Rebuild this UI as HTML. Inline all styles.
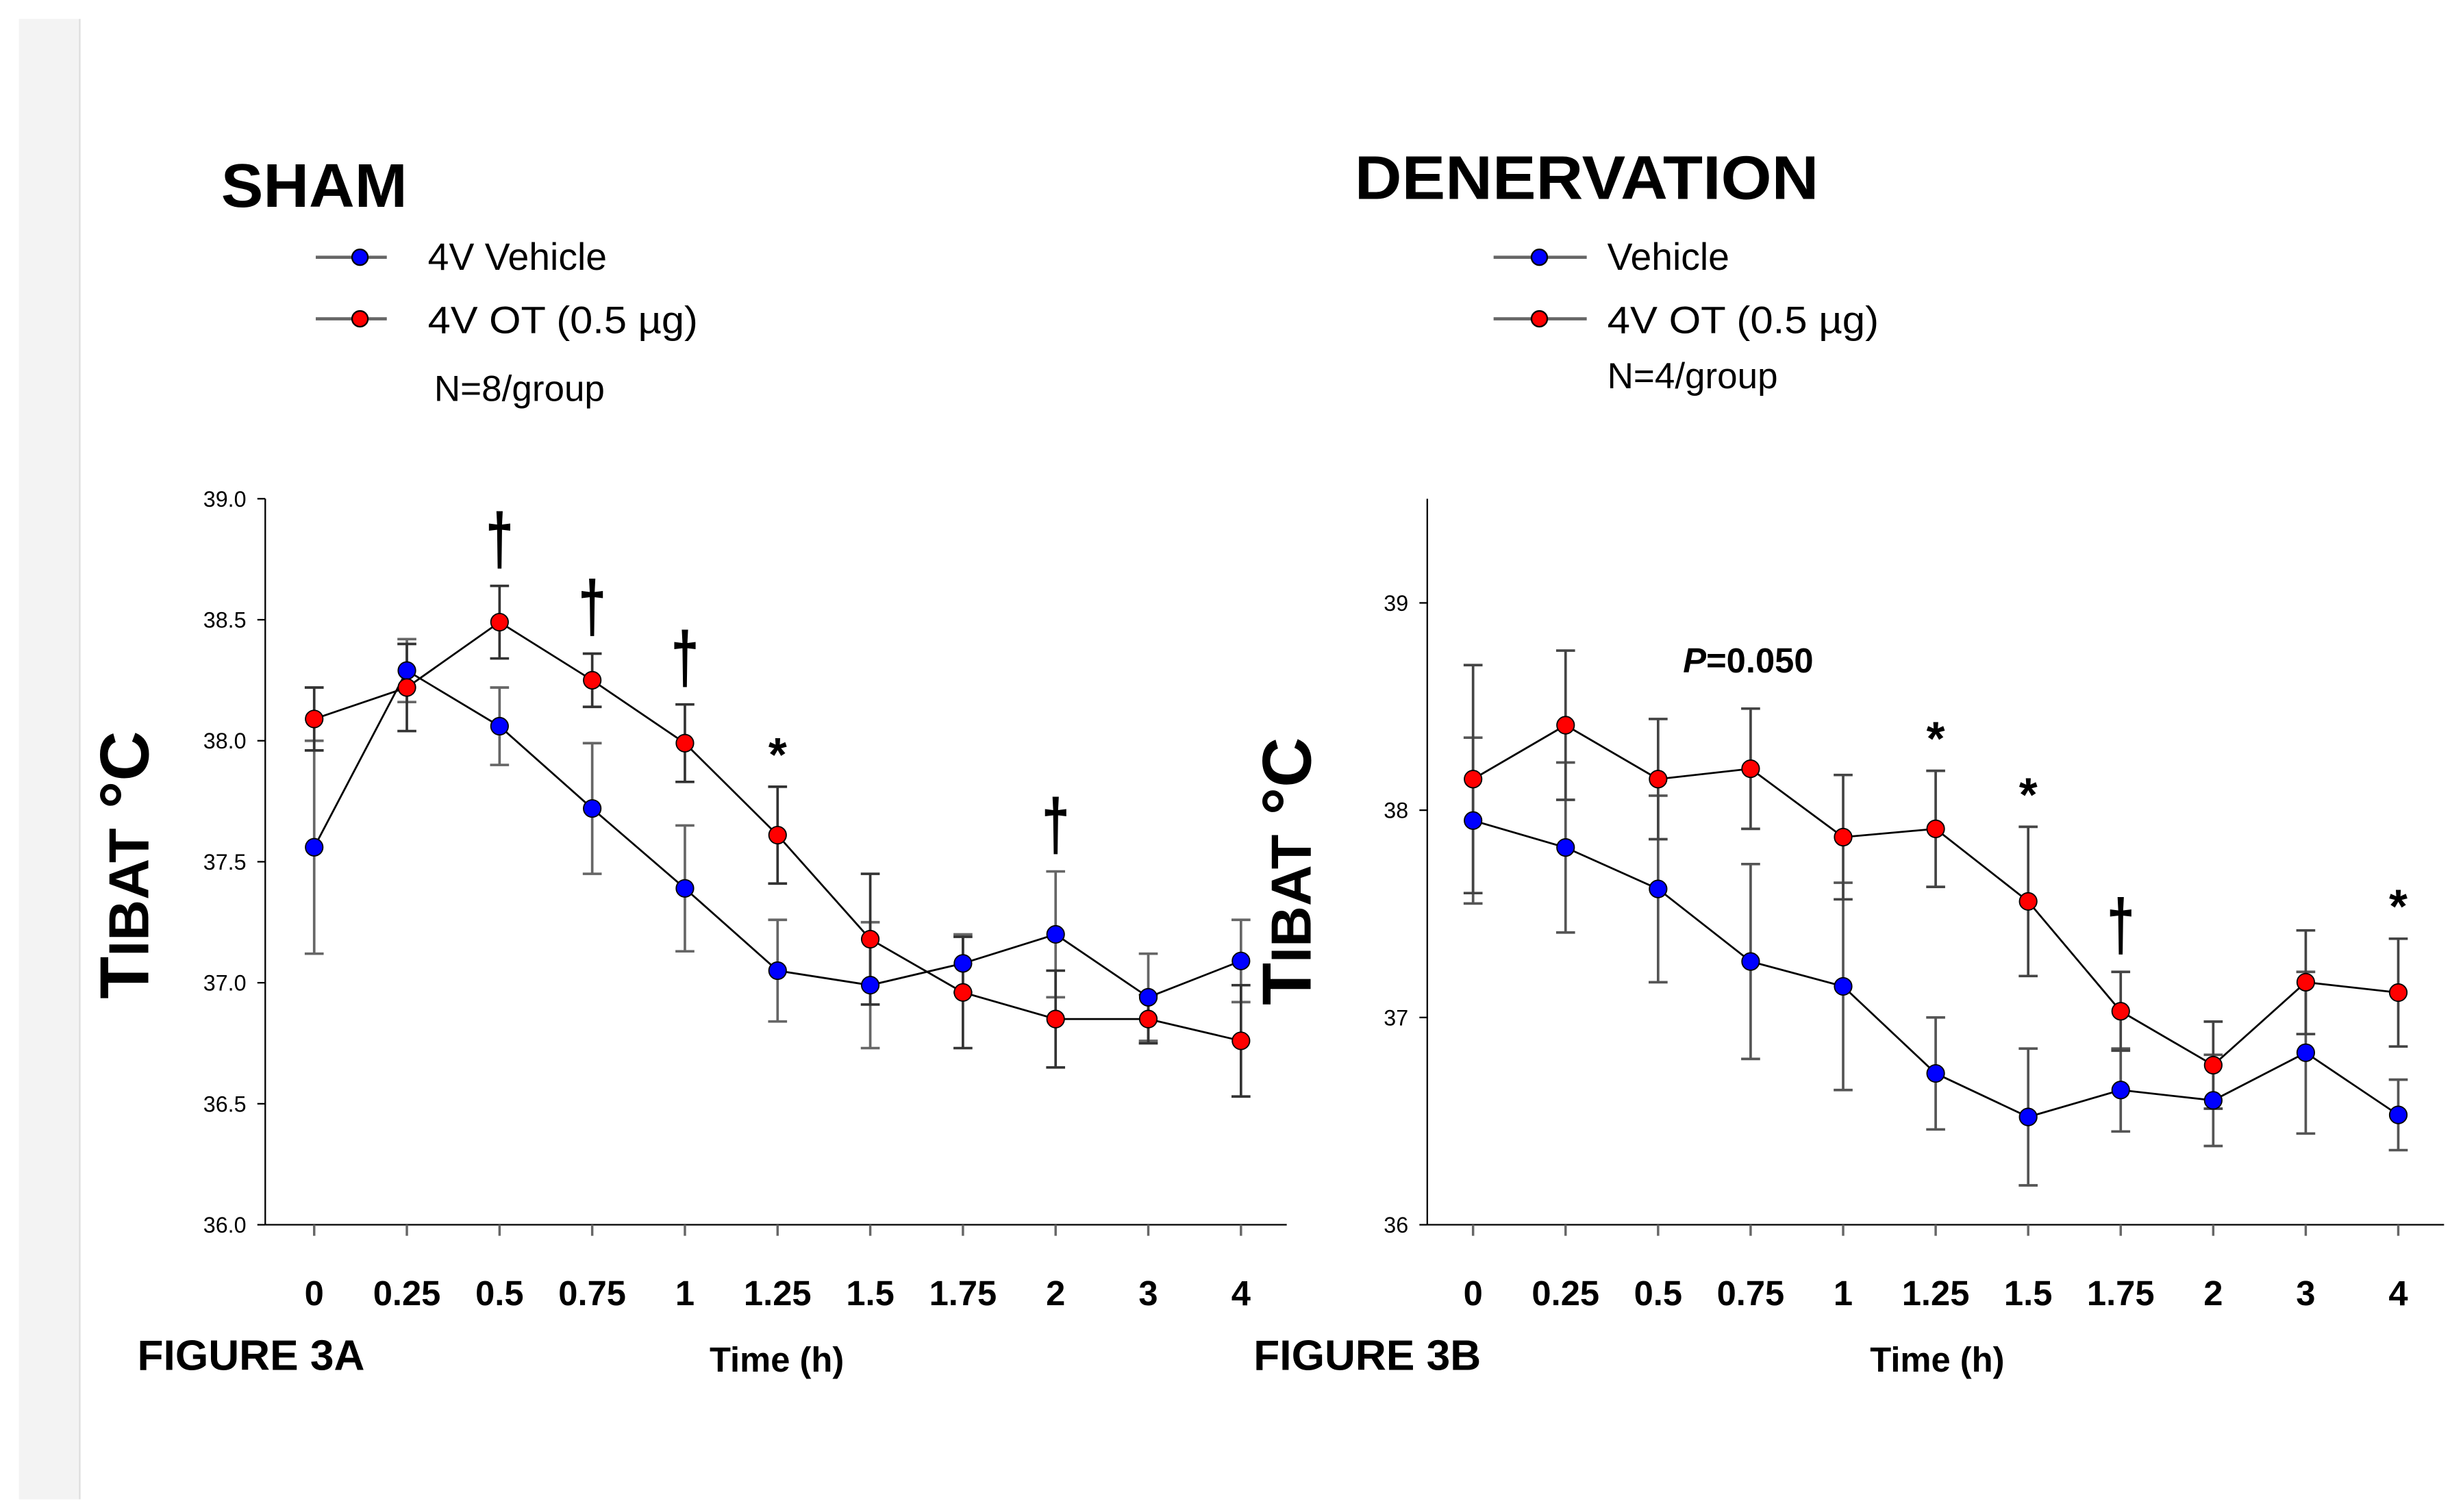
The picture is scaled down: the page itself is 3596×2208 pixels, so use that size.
<!DOCTYPE html>
<html><head><meta charset="utf-8"><style>
html,body{margin:0;padding:0;background:#fff;}
svg{display:block;}
text{font-family:"Liberation Sans",sans-serif;}
</style></head><body>
<svg id="fig" width="3596" height="2208" viewBox="0 0 1560 958" preserveAspectRatio="none" xmlns="http://www.w3.org/2000/svg">
<rect x="12" y="12" width="38" height="938" fill="#f3f3f3"/>
<line x1="50.5" y1="12" x2="50.5" y2="950" stroke="#ddd" stroke-width="1"/>

<text x="140" y="131" font-size="39" font-weight="bold" textLength="118" lengthAdjust="spacingAndGlyphs">SHAM</text>
<text x="858" y="126" font-size="39" font-weight="bold" textLength="294" lengthAdjust="spacingAndGlyphs">DENERVATION</text>

<g>
<line x1="200" y1="163" x2="245" y2="163" stroke="#666" stroke-width="2"/><circle cx="228" cy="163" r="5" fill="#00f" stroke="#000" stroke-width="1"/>
<text x="271" y="171" font-size="24">4V Vehicle</text>
<line x1="200" y1="202" x2="245" y2="202" stroke="#666" stroke-width="2"/><circle cx="228" cy="202" r="5" fill="#f00" stroke="#000" stroke-width="1"/>
<text x="271" y="211" font-size="24" textLength="171" lengthAdjust="spacingAndGlyphs">4V OT (0.5 µg)</text>
<text x="275" y="254" font-size="23">N=8/group</text>
</g>
<g>
<line x1="946" y1="163" x2="1005" y2="163" stroke="#666" stroke-width="2"/><circle cx="975" cy="163" r="5" fill="#00f" stroke="#000" stroke-width="1"/>
<text x="1018" y="171" font-size="24">Vehicle</text>
<line x1="946" y1="202" x2="1005" y2="202" stroke="#666" stroke-width="2"/><circle cx="975" cy="202" r="5" fill="#f00" stroke="#000" stroke-width="1"/>
<text x="1018" y="211" font-size="24" textLength="172" lengthAdjust="spacingAndGlyphs">4V OT (0.5 µg)</text>
<text x="1018" y="246" font-size="23">N=4/group</text>
</g>

<text transform="translate(94,548) rotate(-90)" text-anchor="middle" font-size="44" font-weight="bold">T<tspan font-size="36">IBAT</tspan> °C</text>
<text transform="translate(830,552) rotate(-90)" text-anchor="middle" font-size="44" font-weight="bold">T<tspan font-size="36">IBAT</tspan> °C</text>

<text x="87" y="868" font-size="27" font-weight="bold">FIGURE 3A</text>
<text x="794" y="868" font-size="27" font-weight="bold">FIGURE 3B</text>
<text x="492" y="869" text-anchor="middle" font-size="22" font-weight="bold">Time (h)</text>
<text x="1227" y="869" text-anchor="middle" font-size="22" font-weight="bold">Time (h)</text>
<text x="1066" y="426" font-size="22" font-weight="bold"><tspan font-style="italic">P</tspan>=0.050</text>

<g id="left"></g>
<g id="right"></g>
</svg>
<script>
const categories = ["0","0.25","0.5","0.75","1","1.25","1.5","1.75","2","3","4"];
const shamVehicle = [37.56,38.29,38.06,37.72,37.39,37.05,36.99,37.08,37.20,36.94,37.09];
const shamVehicleErr = [0.44,0.13,0.16,0.27,0.26,0.21,0.26,0.12,0.26,0.18,0.17];
const shamOT = [38.09,38.22,38.49,38.25,37.99,37.61,37.18,36.96,36.85,36.85,36.76];
const shamOTErr = [0.13,0.18,0.15,0.11,0.16,0.20,0.27,0.23,0.20,0.10,0.23];
const denVehicle = [37.95,37.82,37.62,37.27,37.15,36.73,36.52,36.65,36.60,36.83,36.53];
const denVehicleErr = [0.40,0.41,0.45,0.47,0.50,0.27,0.33,0.20,0.22,0.39,0.17];
const denOT = [38.15,38.41,38.15,38.20,37.87,37.91,37.56,37.03,36.77,37.17,37.12];
const denOTErr = [0.55,0.36,0.29,0.29,0.30,0.28,0.36,0.19,0.21,0.25,0.26];
const shamTicks = ["36.0","36.5","37.0","37.5","38.0","38.5","39.0"];
const denTicks = ["36","37","38","39"];
const shamMarks = [["†",2],["†",3],["†",4],["*",5],["†",8]];
const denMarks = [["*",5],["*",6],["†",7],["*",10]];

const NS="http://www.w3.org/2000/svg";
function mk(parent,tag,attrs){const e=document.createElementNS(NS,tag);for(const k in attrs)e.setAttribute(k,attrs[k]);parent.appendChild(e);return e;}

function drawChart(g,cfg){
  const xs=i=>cfg.x0+i*(cfg.x1-cfg.x0)/(categories.length-1);
  const ys=v=>cfg.yBottom-(v-cfg.vMin)*(cfg.yBottom-cfg.yRef)/(cfg.vRef-cfg.vMin);
  const ax=mk(g,'line',{x1:cfg.axX,y1:cfg.axTop,x2:cfg.axX,y2:cfg.yBottom,stroke:'#000','stroke-width':1});
  
  
  const bx=mk(g,'line',{x1:cfg.axX,y1:cfg.yBottom,x2:cfg.axRight,y2:cfg.yBottom,stroke:'#000','stroke-width':1});
  
  
  cfg.ticks.forEach(t=>{
    const y=ys(parseFloat(t));
    mk(g,'line',{x1:cfg.axX-5,y1:y,x2:cfg.axX,y2:y,stroke:'#000','stroke-width':1});
    const tl=mk(g,'text',{x:cfg.axX-12,y:y+5,'text-anchor':'end','font-size':14});
    tl.textContent=t;
    
    
  });
  categories.forEach((c,i)=>{
    const x=xs(i);
    mk(g,'line',{x1:x,y1:cfg.yBottom,x2:x,y2:cfg.yBottom+7,stroke:'#666','stroke-width':1.5});
    const tl=mk(g,'text',{x:x,y:827,'text-anchor':'middle','font-size':22,'font-weight':'bold'});
    tl.textContent=c;
    
    
  });
  cfg.series.forEach(s=>{
    s.vals.forEach((v,i)=>{
      const x=xs(i),e=s.err[i];
      const eb=mk(g,'path',{d:`M${x},${ys(v+e)}V${ys(v-e)}M${x-6},${ys(v+e)}h12M${x-6},${ys(v-e)}h12`,stroke:s.ec,'stroke-width':1.6,fill:'none'});
      
      
    });
  });
  cfg.series.forEach(s=>{
    const ln=mk(g,'polyline',{points:s.vals.map((v,i)=>xs(i)+','+ys(v)).join(' '),fill:'none',stroke:'#000','stroke-width':1.2});
    
    
  });
  cfg.series.forEach(s=>{
    s.vals.forEach((v,i)=>{
      const p=mk(g,'circle',{cx:xs(i),cy:ys(v),r:5.5,fill:s.color,stroke:'#000','stroke-width':0.8});
      
      
    });
  });
  cfg.marks.forEach(m=>{
    const i=m[1];
    const top=Math.max(cfg.series[0].vals[i]+cfg.series[0].err[i],cfg.series[1].vals[i]+cfg.series[1].err[i]);
    const dag=m[0]!=='*';
    const t=mk(g,'text',{x:xs(i),y:ys(top)-(dag?14:10),'text-anchor':'middle','font-size':dag?40:30,'font-weight':'bold'});
    if(dag){t.setAttribute('transform',`translate(${xs(i)},${ys(top)-14}) scale(0.8,1.15) translate(${-xs(i)},${-(ys(top)-14)})`);}
    t.textContent=m[0];
    
    
  });
}
drawChart(document.getElementById('left'),{x0:199,x1:786,axX:168,axTop:316,axRight:815,yBottom:776,vMin:36,yRef:316,vRef:39,ticks:shamTicks,marks:shamMarks,
  series:[{vals:shamVehicle,err:shamVehicleErr,color:'#0000ff',ec:'#666'},{vals:shamOT,err:shamOTErr,color:'#ff0000',ec:'#333'}]});
drawChart(document.getElementById('right'),{x0:933,x1:1519,axX:904,axTop:316,axRight:1548,yBottom:776,vMin:36,yRef:382,vRef:39,ticks:denTicks,marks:denMarks,
  series:[{vals:denVehicle,err:denVehicleErr,color:'#0000ff',ec:'#555'},{vals:denOT,err:denOTErr,color:'#ff0000',ec:'#444'}]});
</script>
</body></html>
